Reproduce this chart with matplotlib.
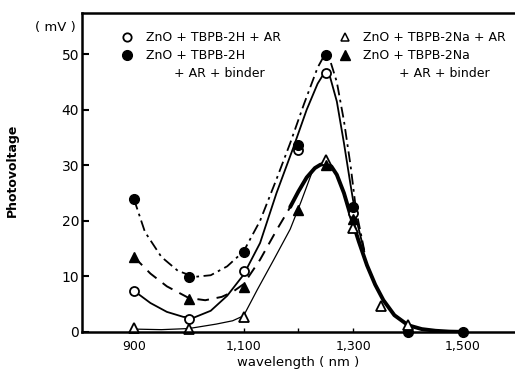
import numpy as np
import matplotlib.pyplot as plt
from matplotlib.lines import Line2D

# measured points (wavelength nm, photovoltage mV)
wl_2h_ar = [900, 1000, 1100, 1200, 1250, 1300]
pv_2h_ar = [7.4, 2.3, 11.0, 32.7, 46.7, 21.4]

wl_2h_bind = [900, 1000, 1100, 1200, 1250, 1300, 1400, 1500]
pv_2h_bind = [23.9, 9.9, 14.4, 33.6, 49.8, 22.5, 0.0, 0.0]

wl_2na_ar = [900, 1000, 1100, 1250, 1300, 1350, 1400]
pv_2na_ar = [0.7, 0.5, 2.7, 30.9, 18.7, 4.7, 1.3]

wl_2na_bind = [900, 1000, 1100, 1200, 1250, 1300]
pv_2na_bind = [13.5, 6.0, 8.1, 21.9, 30.0, 20.3]

# hand drawn curves
cx_2h_ar = [900, 930, 960, 990, 1010, 1040, 1070, 1100, 1130, 1160, 1190, 1215, 1235, 1245,
            1250, 1258, 1270, 1283, 1295, 1305, 1320]
cy_2h_ar = [7.4, 5.2, 3.6, 2.7, 2.6, 3.8, 6.5, 10.3, 16.0, 25.0, 33.0, 40.0, 44.7, 46.3,
            46.7, 45.8, 41.5, 34.0, 26.5, 20.5, 14.5]

cx_2h_bind = [900, 920, 950, 980, 1010, 1040, 1070, 1100, 1130, 1160, 1185, 1210, 1235, 1245,
              1250, 1258, 1270, 1283, 1295, 1305, 1320]
cy_2h_bind = [23.9, 18.0, 13.5, 11.0, 9.9, 10.2, 11.8, 14.5, 20.0, 27.5, 34.0, 41.0, 47.6, 49.4,
              49.8, 48.8, 45.0, 38.0, 30.0, 22.0, 14.7]

cx_2na_ar = [900, 950, 1000, 1050, 1080, 1100, 1125, 1155, 1185, 1205, 1225]
cy_2na_ar = [0.5, 0.4, 0.6, 1.4, 2.0, 2.9, 7.6, 13.0, 18.5, 23.5, 28.8]

cx_2na_dash = [900, 930, 960, 1000, 1030, 1060, 1080, 1100, 1130, 1160, 1190]
cy_2na_dash = [13.5, 10.5, 8.2, 6.1, 5.7, 6.3, 7.2, 8.6, 13.0, 18.3, 23.3]

cx_thick = [1185, 1200, 1215, 1230, 1240, 1250, 1260, 1270, 1283, 1295, 1310, 1325, 1340, 1355,
            1375, 1400, 1425, 1450, 1475, 1500]
cy_thick = [22.5, 25.3, 27.8, 29.5, 30.1, 30.3, 29.8, 28.3, 25.0, 21.0, 16.3, 12.0, 8.5, 5.7,
            3.0, 1.2, 0.5, 0.2, 0.05, 0.0]

xticks = [900, 1000, 1100, 1200, 1300, 1400, 1500]
xticklabels = ['900', '', '1,100', '', '1,300', '', '1,500']
yticks = [0, 10, 20, 30, 40, 50]

fig = plt.figure(figsize=(5.15, 3.75), dpi=100)
ax = fig.add_axes([0.159, 0.115, 0.841, 0.85])

k = 'black'
ax.plot(cx_2h_bind, cy_2h_bind, color=k, lw=1.3, dashes=(6, 2.5, 1.5, 2.5))
ax.plot(cx_2h_ar, cy_2h_ar, color=k, lw=1.3)
ax.plot(cx_2na_ar, cy_2na_ar, color=k, lw=0.9)
ax.plot(cx_2na_dash, cy_2na_dash, color=k, lw=1.4, dashes=(6, 4))
ax.plot(cx_thick, cy_thick, color=k, lw=2.8, solid_capstyle='round')

ax.plot(wl_2h_ar, pv_2h_ar, 'o', ms=6.5, mfc='white', mec=k, mew=1.3, clip_on=False)
ax.plot(wl_2h_bind, pv_2h_bind, 'o', ms=7, mfc=k, mec=k, clip_on=False)
ax.plot(wl_2na_ar, pv_2na_ar, '^', ms=6.5, mfc='white', mec=k, mew=1.3, clip_on=False)
ax.plot(wl_2na_bind, pv_2na_bind, '^', ms=7, mfc=k, mec=k, clip_on=False)

ax.set_xlim(805, 1595)
ax.set_ylim(0, 57.4)
ax.set_xticks(xticks)
ax.set_xticklabels(xticklabels, fontsize=9)
ax.set_yticks(yticks)
ax.set_yticklabels([str(v) for v in yticks], fontsize=10)
ax.tick_params(axis='y', direction='in', length=5, width=1.5, pad=2)
ax.tick_params(axis='x', direction='in', length=3, width=1.0, pad=6)
for s in ['left', 'bottom', 'top']:
    ax.spines[s].set_linewidth(1.8)
ax.spines['right'].set_visible(False)

ax.set_xlabel('wavelength ( nm )', fontsize=9.5, labelpad=2)
fig.text(0.025, 0.547, 'Photovoltage', rotation=90, fontsize=9, fontweight='bold',
         ha='center', va='center')
fig.text(0.107, 0.928, '( mV )', fontsize=9.5, ha='center', va='center')

blank = Line2D([], [], linestyle='none')
h1 = Line2D([], [], marker='o', ls='none', ms=6, mfc='white', mec=k, mew=1.3)
h2 = Line2D([], [], marker='o', ls='none', ms=7, mfc=k, mec=k)
h3 = Line2D([], [], marker='^', ls='none', ms=6, mfc='white', mec=k, mew=1.1)
h4 = Line2D([], [], marker='^', ls='none', ms=6.5, mfc=k, mec=k)

leg1 = ax.legend([h1, h2, blank],
                 ['ZnO + TBPB-2H + AR', 'ZnO + TBPB-2H', '       + AR + binder'],
                 loc='upper left', bbox_to_anchor=(0.078, 0.96), frameon=False,
                 fontsize=9, handlelength=1.0, handletextpad=1.0, labelspacing=0.4,
                 borderaxespad=0)
ax.add_artist(leg1)
ax.legend([h3, h4, blank],
          ['ZnO + TBPB-2Na + AR', 'ZnO + TBPB-2Na', '         + AR + binder'],
          loc='upper left', bbox_to_anchor=(0.582, 0.96), frameon=False,
          fontsize=9, handlelength=1.0, handletextpad=0.95, labelspacing=0.4,
          borderaxespad=0)

fig.savefig('out.png', dpi=100)
